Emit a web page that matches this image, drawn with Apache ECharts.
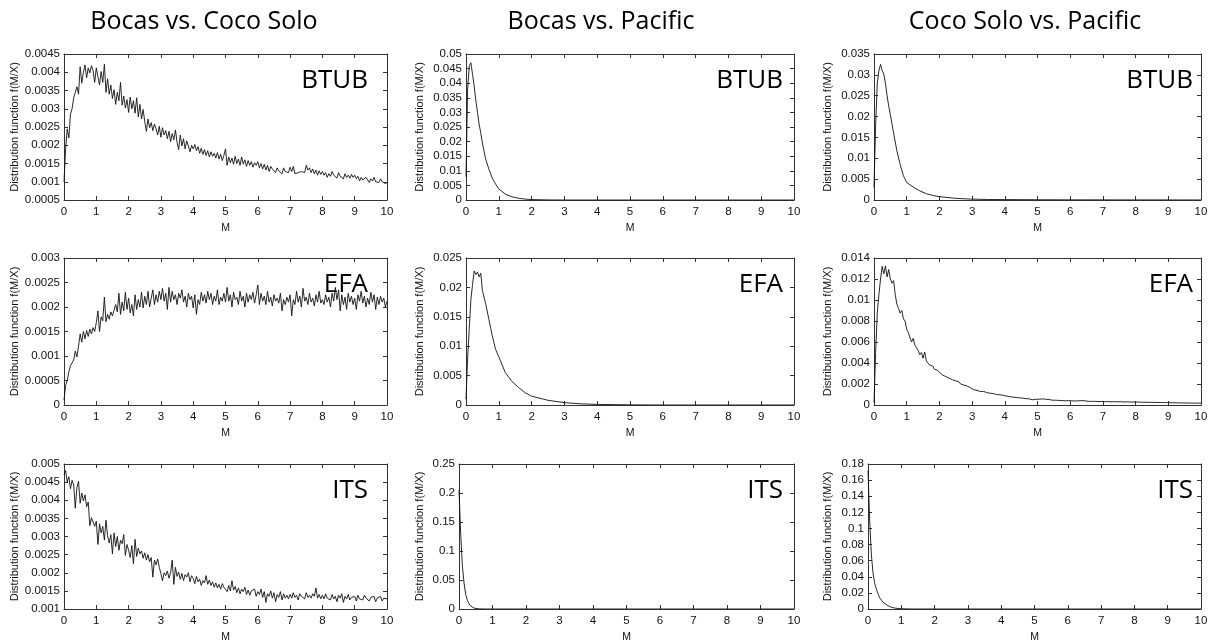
<!DOCTYPE html>
<html>
<head>
<meta charset="utf-8">
<script src="https://cdn.jsdelivr.net/npm/echarts@6/dist/echarts.min.js"></script>
<style>
  html, body { margin: 0; padding: 0; background: #fff; }
  #chart { width: 1219px; height: 644px; }
</style>
</head>
<body>
<div id="chart"></div>
<script>
const chart = echarts.init(document.getElementById('chart'));

const columnTitles = ['Bocas vs. Coco Solo', 'Bocas vs. Pacific', 'Coco Solo vs. Pacific'];
const rowLabels = ['BTUB', 'EFA', 'ITS'];

// sampling positions on M
const xFine = [];
for (let i = 0; i <= 200; i++) xFine.push(+(i * 0.05).toFixed(2));
const xSmooth = [0, 0.05, 0.1, 0.15, 0.2, 0.25, 0.3, 0.35, 0.4, 0.45, 0.5, 0.6, 0.7, 0.8, 0.9, 1.0, 1.2, 1.4, 1.6, 1.8, 2.0, 2.5, 3, 3.5, 4, 5, 6, 7, 8, 9, 10];

// Bocas vs. Coco Solo
// prettier-ignore
const btubBocasCoco = [
0.00100,0.00190,0.00245,0.00220,0.00285,0.00300,0.00330,0.00345,0.00360,0.00340,0.00415,0.00370,0.00400,0.00420,0.00385,0.00412,0.00398,0.00418,0.00405,0.00372,
0.00412,0.00388,0.00365,0.00402,0.00372,0.00422,0.00345,0.00382,0.00340,0.00365,0.00328,0.00352,0.00312,0.00345,0.00322,0.00372,0.00310,0.00335,0.00302,0.00325,
0.00290,0.00332,0.00300,0.00322,0.00288,0.00330,0.00278,0.00312,0.00272,0.00298,0.00265,0.00238,0.00272,0.00248,0.00262,0.00240,0.00258,0.00245,0.00228,0.00252,
0.00222,0.00248,0.00228,0.00240,0.00218,0.00238,0.00210,0.00232,0.00215,0.00242,0.00208,0.00188,0.00228,0.00198,0.00218,0.00190,0.00212,0.00198,0.00182,0.00200,
0.00190,0.00202,0.00185,0.00196,0.00178,0.00192,0.00175,0.00188,0.00172,0.00185,0.00168,0.00182,0.00170,0.00178,0.00165,0.00180,0.00162,0.00175,0.00158,0.00172,
0.00190,0.00145,0.00168,0.00152,0.00165,0.00148,0.00170,0.00150,0.00162,0.00145,0.00168,0.00148,0.00160,0.00142,0.00158,0.00145,0.00155,0.00140,0.00152,0.00145,
0.00155,0.00138,0.00150,0.00135,0.00148,0.00132,0.00145,0.00128,0.00142,0.00135,0.00140,0.00125,0.00138,0.00130,0.00135,0.00122,0.00138,0.00128,0.00132,0.00125,
0.00140,0.00128,0.00142,0.00122,0.00118,0.00125,0.00122,0.00128,0.00132,0.00125,0.00145,0.00132,0.00138,0.00125,0.00135,0.00122,0.00132,0.00118,0.00130,0.00120,
0.00128,0.00118,0.00125,0.00112,0.00122,0.00115,0.00128,0.00118,0.00122,0.00110,0.00125,0.00115,0.00120,0.00108,0.00122,0.00112,0.00118,0.00110,0.00120,0.00112,
0.00118,0.00108,0.00115,0.00102,0.00112,0.00105,0.00110,0.00112,0.00110,0.00098,0.00108,0.00102,0.00112,0.00100,0.00105,0.00098,0.00108,0.00100,0.00102,0.00095,
0.00098];
// prettier-ignore
const efaBocasCoco = [
0.00010,0.00040,0.00050,0.00068,0.00080,0.00078,0.00092,0.00110,0.00098,0.00120,0.00145,0.00128,0.00150,0.00135,0.00152,0.00140,0.00155,0.00145,0.00158,0.00150,
0.00168,0.00192,0.00150,0.00180,0.00172,0.00220,0.00170,0.00185,0.00175,0.00190,0.00182,0.00178,0.00205,0.00190,0.00228,0.00185,0.00210,0.00192,0.00230,0.00195,
0.00218,0.00188,0.00205,0.00182,0.00225,0.00195,0.00215,0.00200,0.00230,0.00198,0.00222,0.00205,0.00232,0.00200,0.00218,0.00235,0.00205,0.00225,0.00210,0.00232,
0.00215,0.00238,0.00212,0.00228,0.00195,0.00240,0.00210,0.00232,0.00215,0.00225,0.00205,0.00228,0.00218,0.00235,0.00210,0.00222,0.00200,0.00228,0.00215,0.00222,
0.00198,0.00225,0.00185,0.00215,0.00205,0.00230,0.00212,0.00225,0.00208,0.00232,0.00215,0.00228,0.00205,0.00222,0.00212,0.00235,0.00205,0.00220,0.00212,0.00228,
0.00210,0.00240,0.00212,0.00225,0.00200,0.00230,0.00215,0.00220,0.00205,0.00232,0.00212,0.00222,0.00200,0.00228,0.00210,0.00225,0.00215,0.00230,0.00208,0.00225,
0.00245,0.00205,0.00228,0.00212,0.00222,0.00205,0.00232,0.00210,0.00220,0.00202,0.00225,0.00212,0.00218,0.00208,0.00228,0.00192,0.00215,0.00205,0.00220,0.00210,
0.00225,0.00182,0.00215,0.00205,0.00232,0.00210,0.00222,0.00200,0.00238,0.00212,0.00220,0.00205,0.00228,0.00210,0.00218,0.00202,0.00225,0.00210,0.00232,0.00208,
0.00215,0.00205,0.00225,0.00210,0.00220,0.00200,0.00228,0.00212,0.00240,0.00215,0.00235,0.00192,0.00225,0.00205,0.00220,0.00195,0.00228,0.00210,0.00222,0.00205,
0.00218,0.00195,0.00225,0.00212,0.00232,0.00208,0.00222,0.00200,0.00218,0.00205,0.00230,0.00210,0.00225,0.00195,0.00220,0.00205,0.00222,0.00210,0.00218,0.00200,
0.00212];
// prettier-ignore
const itsBocasCoco = [
0.00470,0.00482,0.00450,0.00465,0.00432,0.00455,0.00442,0.00378,0.00435,0.00452,0.00392,0.00420,0.00398,0.00415,0.00382,0.00395,0.00330,0.00352,0.00340,0.00328,
0.00342,0.00278,0.00335,0.00310,0.00328,0.00290,0.00345,0.00302,0.00282,0.00305,0.00252,0.00310,0.00272,0.00300,0.00262,0.00290,0.00280,0.00305,0.00248,0.00278,
0.00262,0.00242,0.00275,0.00225,0.00292,0.00245,0.00268,0.00252,0.00260,0.00240,0.00255,0.00235,0.00250,0.00230,0.00242,0.00188,0.00235,0.00222,0.00238,0.00215,
0.00198,0.00178,0.00200,0.00192,0.00205,0.00185,0.00200,0.00235,0.00168,0.00215,0.00190,0.00202,0.00182,0.00198,0.00178,0.00195,0.00188,0.00200,0.00175,0.00192,
0.00185,0.00170,0.00190,0.00175,0.00182,0.00165,0.00178,0.00172,0.00192,0.00168,0.00180,0.00165,0.00175,0.00160,0.00172,0.00158,0.00168,0.00155,0.00170,0.00160,
0.00155,0.00148,0.00165,0.00150,0.00178,0.00152,0.00162,0.00145,0.00158,0.00142,0.00155,0.00148,0.00160,0.00140,0.00152,0.00138,0.00150,0.00145,0.00155,0.00135,
0.00148,0.00140,0.00155,0.00132,0.00148,0.00118,0.00142,0.00135,0.00150,0.00130,0.00145,0.00120,0.00140,0.00132,0.00148,0.00125,0.00142,0.00130,0.00138,0.00128,
0.00140,0.00130,0.00145,0.00132,0.00138,0.00125,0.00142,0.00135,0.00140,0.00128,0.00145,0.00132,0.00138,0.00130,0.00142,0.00135,0.00158,0.00130,0.00140,0.00128,
0.00138,0.00128,0.00142,0.00130,0.00135,0.00125,0.00140,0.00128,0.00135,0.00120,0.00138,0.00130,0.00142,0.00118,0.00135,0.00128,0.00140,0.00125,0.00132,0.00128,
0.00135,0.00122,0.00138,0.00128,0.00132,0.00125,0.00138,0.00130,0.00135,0.00122,0.00132,0.00128,0.00135,0.00120,0.00130,0.00125,0.00135,0.00122,0.00130,0.00125,
0.00128];

// Bocas vs. Pacific (on xSmooth)
// prettier-ignore
const btubBocasPac = [0.008,0.038,0.046,0.047,0.043,0.039,0.034,0.030,0.026,0.023,0.0195,0.014,0.0105,0.0075,0.0055,0.0038,0.0020,0.0011,0.0006,0.0003,0.00015,0.00003,0,0,0,0,0,0,0,0,0];
// prettier-ignore
const efaBocasPac = [0.001,0.008,0.013,0.018,0.0205,0.0228,0.0222,0.0226,0.0218,0.0224,0.0195,0.0172,0.0145,0.0118,0.0095,0.0082,0.0055,0.0040,0.0030,0.0021,0.0015,0.0008,0.0004,0.0002,0.0001,0.00003,0,0,0,0,0];
// prettier-ignore
const itsBocasPac = [0.205,0.13,0.075,0.045,0.025,0.015,0.009,0.005,0.003,0.0015,0.0008,0.0003,0.0001,0,0,0,0,0,0,0,0,0,0,0,0,0,0,0,0,0,0];

// Coco Solo vs. Pacific
// prettier-ignore
const btubCocoPac = [0.003,0.018,0.028,0.031,0.0325,0.031,0.0302,0.028,0.025,0.0225,0.0205,0.016,0.0118,0.0085,0.0058,0.0042,0.0031,0.0022,0.0015,0.0011,0.0008,0.0004,0.0002,0.00012,0.0001,0.00006,0.00004,0.00003,0.00002,0.00002,0.00001];
// prettier-ignore
const efaCocoPac = [
0.00020,0.00500,0.00880,0.01050,0.01200,0.01320,0.01250,0.01325,0.01220,0.01290,0.01200,0.01160,0.01185,0.01050,0.00960,0.00920,0.00875,0.00900,0.00820,0.00800,
0.00720,0.00690,0.00640,0.00600,0.00635,0.00570,0.00580,0.00520,0.00480,0.00500,0.00445,0.00505,0.00420,0.00400,0.00380,0.00365,0.00370,0.00340,0.00350,0.00330,
0.00310,0.00300,0.00285,0.00290,0.00270,0.00275,0.00255,0.00260,0.00240,0.00245,0.00230,0.00215,0.00220,0.00200,0.00205,0.00190,0.00195,0.00180,0.00185,0.00165,
0.00150,0.00145,0.00135,0.00140,0.00130,0.00128,0.00122,0.00130,0.00125,0.00118,0.00120,0.00112,0.00115,0.00108,0.00110,0.00100,0.00105,0.00098,0.00100,0.00092,
0.00090,0.00085,0.00088,0.00080,0.00082,0.00075,0.00078,0.00072,0.00075,0.00068,0.00070,0.00065,0.00068,0.00060,0.00065,0.00058,0.00062,0.00050,0.00058,0.00055,
0.00050,0.00055,0.00052,0.00058,0.00050,0.00055,0.00048,0.00052,0.00050,0.00046,0.00050,0.00045,0.00048,0.00044,0.00046,0.00042,0.00045,0.00040,0.00044,0.00042,
0.00045,0.00040,0.00042,0.00038,0.00042,0.00040,0.00038,0.00042,0.00036,0.00040,0.00038,0.00035,0.00038,0.00034,0.00037,0.00035,0.00038,0.00033,0.00036,0.00034,
0.00035,0.00032,0.00036,0.00033,0.00035,0.00030,0.00034,0.00032,0.00035,0.00030,0.00033,0.00031,0.00032,0.00029,0.00032,0.00030,0.00031,0.00028,0.00031,0.00029,
0.00030,0.00028,0.00030,0.00027,0.00029,0.00026,0.00028,0.00026,0.00027,0.00025,0.00027,0.00025,0.00026,0.00024,0.00026,0.00024,0.00025,0.00023,0.00025,0.00023,
0.00024,0.00022,0.00023,0.00021,0.00023,0.00021,0.00022,0.00020,0.00022,0.00020,0.00021,0.00019,0.00021,0.00019,0.00020,0.00018,0.00020,0.00018,0.00019,0.00018,
0.00018];
// prettier-ignore
const itsCocoPac = [0.172,0.11,0.068,0.045,0.032,0.025,0.019,0.014,0.011,0.0085,0.0065,0.004,0.0022,0.0012,0.0006,0.0003,0.0001,0,0,0,0,0,0,0,0,0,0,0,0,0,0];

// y-axis ranges per panel [min, max, interval]
const yRanges = [
  [[0.0005, 0.0045, 0.0005], [0, 0.05, 0.005], [0, 0.035, 0.005]],
  [[0, 0.003, 0.0005], [0, 0.025, 0.005], [0, 0.014, 0.002]],
  [[0.001, 0.005, 0.0005], [0, 0.25, 0.05], [0, 0.18, 0.02]]
];
const panelData = [
  [[xFine, btubBocasCoco], [xSmooth, btubBocasPac], [xSmooth, btubCocoPac]],
  [[xFine, efaBocasCoco], [xSmooth, efaBocasPac], [xFine, efaCocoPac]],
  [[xFine, itsBocasCoco], [xSmooth, itsBocasPac], [xSmooth, itsCocoPac]]
];

// layout in pixels
const colLeft = [[64, 466, 874], [64, 466, 874], [64, 459, 868]];
const colRight = [387, 794, 1201];
const rowTop = [54, 258, 464];
const rowBottom = [200, 405, 611];
const colTitleX = [204, 601, 1025];
const nameX = [15, 420, 828];
const labelGap = [19, 11, 8];

const fontAxis = 'Liberation Sans';
const fontTitle = 'Open Sans';
const axisColor = '#333';

const grid = [], xAxis = [], yAxis = [], series = [], graphic = [];
const fmt = v => String(+v.toPrecision(6));

for (let r = 0; r < 3; r++) {
  for (let c = 0; c < 3; c++) {
    const g = grid.length;
    const left = colLeft[r][c];
    grid.push({
      left: left, top: rowTop[r],
      width: colRight[c] - left, height: rowBottom[r] - rowTop[r],
      show: false
    });
    const tick = { show: true, inside: true, length: 4, lineStyle: { color: axisColor } };
    const line = { show: true, onZero: false, lineStyle: { color: axisColor, width: 1 } };
    xAxis.push({
      gridIndex: g, type: 'value', min: 0, max: 10, interval: 1, position: 'bottom',
      axisLine: line, axisTick: tick, splitLine: { show: false },
      axisLabel: { color: '#111', fontFamily: fontAxis, fontSize: 11.5, margin: 6 },
      name: 'M', nameLocation: 'middle', nameGap: 23,
      nameTextStyle: { color: '#111', fontFamily: fontAxis, fontSize: 10.5 }
    });
    xAxis.push({
      gridIndex: g, type: 'value', min: 0, max: 10, interval: 1, position: 'top',
      axisLine: line, axisTick: tick, axisLabel: { show: false }, splitLine: { show: false }
    });
    const yr = yRanges[r][c];
    yAxis.push({
      gridIndex: g, type: 'value', min: yr[0], max: yr[1], interval: yr[2], position: 'left',
      axisLine: line, axisTick: tick, splitLine: { show: false },
      axisLabel: { color: '#111', fontFamily: fontAxis, fontSize: 11.5, margin: 4, formatter: fmt },
      name: 'Distribution function f(M/X)', nameLocation: 'middle', nameRotate: 90,
      nameGap: left - nameX[c] - 5,
      nameTextStyle: { color: '#111', fontFamily: fontAxis, fontSize: 11 }
    });
    yAxis.push({
      gridIndex: g, type: 'value', min: yr[0], max: yr[1], interval: yr[2], position: 'right',
      axisLine: line, axisTick: tick, axisLabel: { show: false }, splitLine: { show: false }
    });
    const [xs, ys] = panelData[r][c];
    series.push({
      type: 'line', xAxisIndex: 2 * g, yAxisIndex: 2 * g,
      data: xs.map((x, i) => [x, ys[i]]),
      showSymbol: false, symbol: 'none', animation: false,
      lineStyle: { color: '#111', width: 0.9 }
    });
    graphic.push({
      type: 'text', right: 1219 - colRight[c] + labelGap[c], top: rowTop[r] + 14, z: 100,
      style: { text: rowLabels[r], font: '26px "' + fontTitle + '"', fill: '#000' }
    });
  }
}

for (let c = 0; c < 3; c++) {
  graphic.push({
    type: 'text', x: colTitleX[c], y: 22, z: 100,
    style: { text: columnTitles[c], font: '25px "' + fontTitle + '"', fill: '#000', align: 'center', verticalAlign: 'middle' }
  });
}

const option = {
  backgroundColor: '#fff',
  animation: false,
  grid: grid,
  xAxis: xAxis,
  yAxis: yAxis,
  series: series,
  graphic: graphic
};
chart.setOption(option);
window.addEventListener('resize', function () { chart.resize(); });
</script>
</body>
</html>
